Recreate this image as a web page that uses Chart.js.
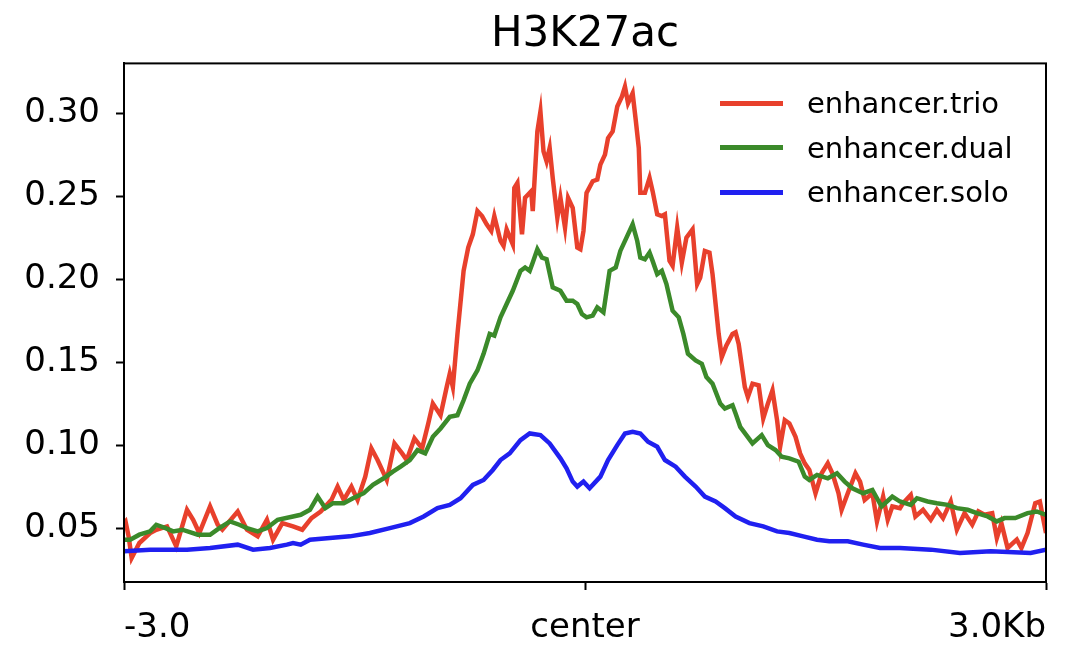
<!DOCTYPE html>
<html>
<head>
<meta charset="utf-8">
<script src="https://cdn.jsdelivr.net/npm/chart.js@4.4.0/dist/chart.umd.min.js"></script>
<style>
  body { margin: 0; background: #fff; }
  #wrap { position: relative; width: 1070px; height: 656px; }
  #legend { position: absolute; left: 720px; top: 81px; font-family: "DejaVu Sans", sans-serif; font-size: 29px; color: #000; }
  .row { display: flex; align-items: center; height: 44.5px; }
  .swatch { width: 63px; height: 5px; margin-right: 24px; }
</style>
</head>
<body>
<div id="wrap">
  <canvas id="chart" width="1070" height="656"></canvas>
  <div id="legend"></div>
</div>
<script>
// Profile of H3K27ac signal, 600 bins of 10 bp around enhancer centers
const titleText = "H3K27ac";
const xTickBins = [0, 300, 600];
const xTickLabels = ["-3.0", "center", "3.0Kb"];
const yTicks = [0.05, 0.10, 0.15, 0.20, 0.25, 0.30];

const seriesNames = ["enhancer.trio", "enhancer.dual", "enhancer.solo"];
const seriesColors = ["#e8402c", "#3b8a2a", "#2020f0"];

const trioPos = [0,1,3,5,10,17,21,28,34,41,45,49,56,61,64,74,80,87,93,97,103,110,116,122,128,135,139,143,148,152,157,161,165,171,176,181,184,189,194,198,201,206,210,212,214,217,221,224,227,230,233,236,239,241,245,247,249,253,254,256,259,261,263,265,266,269,271,273,275,277,279,282,284,287,289,292,295,297,299,301,305,308,310,313,315,318,321,324,326,328,331,333,335,336,339,342,344,347,350,352,355,357,360,363,366,370,373,375,378,381,383,387,389,392,396,398,400,404,406,409,413,416,419,422,425,427,430,433,437,440,443,446,450,454,458,461,465,467,471,476,479,482,487,490,494,497,500,505,507,512,515,520,525,529,533,538,542,547,552,556,560,565,568,571,575,581,584,588,593,596,600];
const trioVal = [0.053,0.054,0.045,0.032,0.041,0.047,0.049,0.051,0.039,0.061,0.055,0.047,0.063,0.052,0.049,0.060,0.049,0.045,0.055,0.043,0.053,0.051,0.049,0.056,0.060,0.067,0.075,0.067,0.075,0.067,0.081,0.098,0.091,0.079,0.101,0.095,0.091,0.104,0.098,0.113,0.125,0.118,0.135,0.143,0.135,0.167,0.205,0.219,0.227,0.241,0.238,0.233,0.229,0.238,0.223,0.220,0.230,0.221,0.255,0.258,0.227,0.249,0.251,0.253,0.241,0.289,0.301,0.277,0.271,0.279,0.261,0.237,0.249,0.231,0.249,0.243,0.219,0.218,0.229,0.252,0.259,0.260,0.269,0.275,0.285,0.289,0.304,0.310,0.316,0.306,0.312,0.296,0.279,0.252,0.252,0.261,0.253,0.239,0.238,0.239,0.211,0.208,0.231,0.210,0.225,0.230,0.197,0.201,0.217,0.216,0.203,0.167,0.153,0.160,0.167,0.168,0.161,0.135,0.129,0.137,0.136,0.116,0.125,0.133,0.115,0.099,0.115,0.113,0.105,0.095,0.089,0.085,0.071,0.083,0.089,0.083,0.071,0.061,0.071,0.083,0.078,0.067,0.071,0.054,0.069,0.055,0.063,0.062,0.065,0.070,0.057,0.061,0.055,0.061,0.056,0.066,0.049,0.059,0.052,0.060,0.058,0.059,0.044,0.053,0.038,0.043,0.038,0.047,0.065,0.066,0.047];

const dualPos = [0,4,10,17,21,27,32,38,48,56,62,69,75,80,87,93,100,110,115,121,126,131,136,143,149,156,162,169,175,180,186,191,196,201,206,212,217,221,225,230,234,238,241,245,249,253,258,261,264,266,269,272,275,279,284,288,292,295,298,301,305,308,312,316,320,323,327,331,334,336,339,342,344,347,350,353,357,361,364,367,372,376,379,383,388,391,396,398,401,405,409,415,419,424,428,433,439,443,446,451,458,464,469,474,481,487,493,500,505,512,516,523,529,536,542,549,555,562,568,573,580,588,594,600];
const dualVal = [0.043,0.043,0.046,0.048,0.052,0.050,0.048,0.049,0.046,0.046,0.050,0.054,0.052,0.050,0.048,0.050,0.055,0.057,0.058,0.061,0.069,0.062,0.065,0.065,0.068,0.071,0.076,0.080,0.084,0.087,0.091,0.097,0.095,0.105,0.110,0.117,0.118,0.127,0.137,0.145,0.155,0.167,0.166,0.177,0.185,0.193,0.205,0.207,0.205,0.210,0.218,0.213,0.212,0.195,0.193,0.187,0.187,0.185,0.179,0.177,0.178,0.183,0.180,0.205,0.207,0.217,0.225,0.233,0.223,0.213,0.212,0.216,0.211,0.203,0.205,0.197,0.181,0.177,0.167,0.155,0.151,0.149,0.141,0.137,0.125,0.122,0.124,0.119,0.111,0.106,0.101,0.106,0.100,0.097,0.093,0.092,0.090,0.081,0.079,0.082,0.080,0.083,0.078,0.074,0.071,0.073,0.063,0.069,0.066,0.064,0.068,0.066,0.065,0.064,0.062,0.061,0.059,0.057,0.054,0.056,0.056,0.059,0.060,0.058];

const soloPos = [0,17,41,56,74,84,95,106,110,115,121,134,147,160,173,186,195,204,212,219,227,234,240,245,251,258,264,271,277,284,288,292,295,299,303,310,315,321,326,331,336,341,347,352,359,365,372,378,385,391,398,407,416,425,433,442,451,459,471,481,492,505,525,544,564,590,600];
const soloVal = [0.036,0.037,0.037,0.038,0.040,0.037,0.038,0.040,0.041,0.040,0.043,0.044,0.045,0.047,0.050,0.053,0.057,0.062,0.064,0.068,0.076,0.079,0.085,0.091,0.095,0.103,0.107,0.106,0.101,0.092,0.086,0.078,0.075,0.078,0.074,0.081,0.091,0.100,0.107,0.108,0.107,0.102,0.099,0.091,0.087,0.081,0.075,0.069,0.066,0.062,0.057,0.053,0.051,0.048,0.047,0.045,0.043,0.042,0.042,0.040,0.038,0.038,0.037,0.035,0.036,0.035,0.037];

const FONT = "DejaVu Sans";

function toPoints(pos, vals) {
  return pos.map((p, i) => ({ x: p, y: vals[i] }));
}

const allPos = [trioPos, dualPos, soloPos];
const allVal = [trioVal, dualVal, soloVal];

const datasets = seriesNames.map((name, i) => ({
  label: name,
  data: toPoints(allPos[i], allVal[i]),
  borderColor: seriesColors[i],
  borderWidth: 4.5,
  pointRadius: 0,
  tension: 0,
  fill: false,
  order: 2 - i, // later series on top, like matplotlib
}));

// box around the plot area (top and right spines)
const frame = {
  id: "frame",
  afterDraw(chart) {
    const { ctx, chartArea: a } = chart;
    ctx.save();
    ctx.strokeStyle = "#000";
    ctx.lineWidth = 2;
    ctx.strokeRect(a.left, a.top, a.right - a.left, a.bottom - a.top);
    ctx.restore();
  },
};

const tickFont = { family: FONT, size: 34 };

new Chart(document.getElementById("chart"), {
  type: "line",
  data: { datasets },
  options: {
    responsive: false,
    animation: false,
    layout: { padding: { right: 24 } },
    plugins: {
      legend: { display: false },
      tooltip: { enabled: false },
      title: {
        display: true,
        fullSize: false,
        text: titleText,
        color: "#000",
        font: { family: FONT, size: 42, weight: "normal" },
        padding: { top: 10, bottom: 3 },
      },
    },
    scales: {
      x: {
        type: "linear",
        min: 0,
        max: 600,
        afterBuildTicks: s => { s.ticks = xTickBins.map(v => ({ value: v })); },
        afterFit: s => { s.height = 74; },
        ticks: {
          callback: (v, i) => xTickLabels[i],
          align: "inner",
          color: "#000",
          font: tickFont,
          padding: 18,
          maxRotation: 0,
          autoSkip: false,
        },
        grid: { drawOnChartArea: false, tickLength: 8, tickColor: "#000", tickWidth: 2 },
        border: { color: "#000", width: 2 },
      },
      y: {
        min: 0.0175,
        max: 0.330,
        afterBuildTicks: s => { s.ticks = yTicks.map(v => ({ value: v })); },
        afterFit: s => { s.width = 124; },
        ticks: {
          callback: v => v.toFixed(2),
          color: "#000",
          font: tickFont,
          padding: 16,
        },
        grid: { drawOnChartArea: false, tickLength: 8, tickColor: "#000", tickWidth: 2 },
        border: { color: "#000", width: 2 },
      },
    },
  },
  plugins: [frame],
});

// Legend
const legend = document.getElementById("legend");
seriesNames.forEach((name, i) => {
  legend.innerHTML += `<div class="row"><span class="swatch" style="background:${seriesColors[i]}"></span><span>${name}</span></div>`;
});
</script>
</body>
</html>
